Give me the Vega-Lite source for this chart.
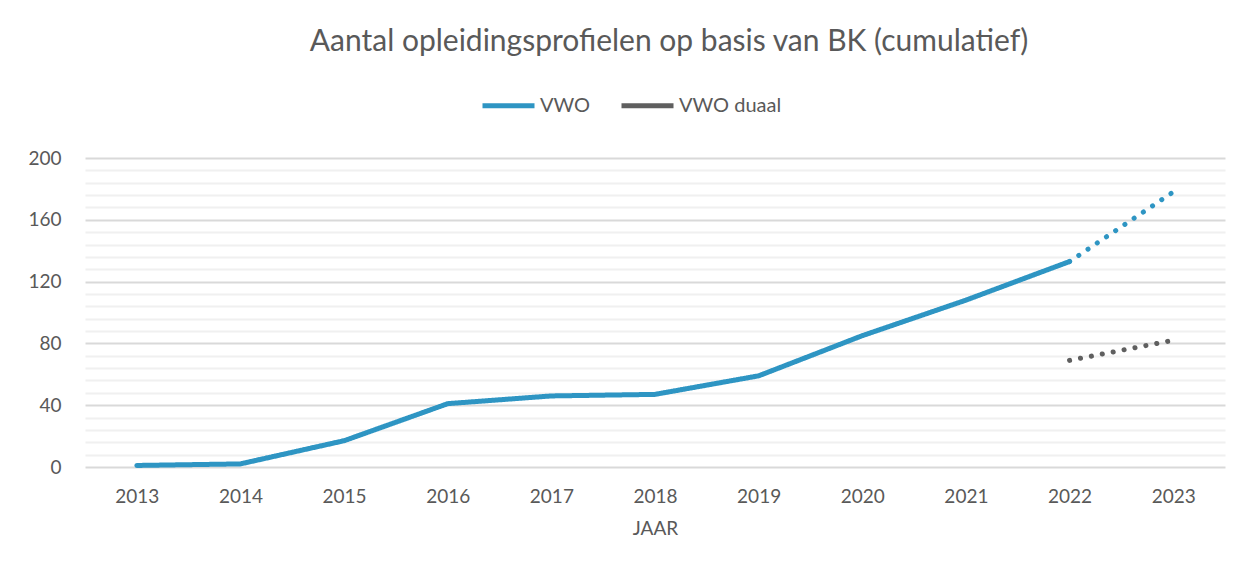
{
  "$schema": "https://vega.github.io/schema/vega-lite/v6.json",
  "width": 1140,
  "height": 309,
  "autosize": {"type": "none"},
  "padding": {"left": 85, "top": 158, "right": 25, "bottom": 110},
  "background": "white",
  "config": {
    "font": "Lato",
    "view": {"stroke": null}
  },
  "title": {
    "text": "Aantal opleidingsprofielen op basis van BK (cumulatief)",
    "fontSize": 30,
    "fontWeight": "normal",
    "color": "#595959",
    "anchor": "middle",
    "frame": "group",
    "dx": 14,
    "offset": 20
  },
  "data": {
    "values": [
      {"jaar": "2013", "aantal": 1, "reeks": "VWO", "deel": "VWO-a", "stijl": "vol"},
      {"jaar": "2014", "aantal": 2, "reeks": "VWO", "deel": "VWO-a", "stijl": "vol"},
      {"jaar": "2015", "aantal": 17, "reeks": "VWO", "deel": "VWO-a", "stijl": "vol"},
      {"jaar": "2016", "aantal": 41, "reeks": "VWO", "deel": "VWO-a", "stijl": "vol"},
      {"jaar": "2017", "aantal": 46, "reeks": "VWO", "deel": "VWO-a", "stijl": "vol"},
      {"jaar": "2018", "aantal": 47, "reeks": "VWO", "deel": "VWO-a", "stijl": "vol"},
      {"jaar": "2019", "aantal": 59, "reeks": "VWO", "deel": "VWO-a", "stijl": "vol"},
      {"jaar": "2020", "aantal": 85, "reeks": "VWO", "deel": "VWO-a", "stijl": "vol"},
      {"jaar": "2021", "aantal": 108, "reeks": "VWO", "deel": "VWO-a", "stijl": "vol"},
      {"jaar": "2022", "aantal": 133, "reeks": "VWO", "deel": "VWO-a", "stijl": "vol"},
      {"jaar": "2022", "aantal": 133, "reeks": "VWO", "deel": "VWO-b", "stijl": "stip"},
      {"jaar": "2023", "aantal": 178, "reeks": "VWO", "deel": "VWO-b", "stijl": "stip"},
      {"jaar": "2022", "aantal": 69, "reeks": "VWO duaal", "deel": "duaal", "stijl": "stip"},
      {"jaar": "2023", "aantal": 82, "reeks": "VWO duaal", "deel": "duaal", "stijl": "stip"}
    ]
  },
  "mark": {"type": "line", "strokeWidth": 5, "strokeCap": "round", "strokeJoin": "round"},
  "encoding": {
    "x": {
      "field": "jaar",
      "type": "ordinal",
      "sort": null,
      "scale": {"type": "point", "padding": 0.5},
      "axis": {
        "title": "JAAR",
        "titleFontSize": 19,
        "titleFontWeight": "normal",
        "titleColor": "#595959",
        "titlePadding": 13,
        "labelFontSize": 19,
        "labelColor": "#595959",
        "labelPadding": 20,
        "labelAngle": 0,
        "domain": false,
        "ticks": false,
        "grid": false
      }
    },
    "y": {
      "field": "aantal",
      "type": "quantitative",
      "scale": {"domain": [0, 200], "nice": false},
      "axis": {
        "title": null,
        "values": [0, 8, 16, 24, 32, 40, 48, 56, 64, 72, 80, 88, 96, 104, 112, 120, 128, 136, 144, 152, 160, 168, 176, 184, 192, 200],
        "labelExpr": "datum.value % 40 === 0 ? datum.label : ''",
        "labelFontSize": 19,
        "labelColor": "#595959",
        "labelPadding": 24,
        "domain": false,
        "ticks": false,
        "grid": true,
        "gridWidth": 2,
        "gridColor": {"condition": {"test": "datum.value % 40 === 0", "value": "#d9d9d9"}, "value": "#f0f0f0"}
      }
    },
    "color": {
      "field": "reeks",
      "type": "nominal",
      "scale": {"domain": ["VWO", "VWO duaal"], "range": ["#2e95c3", "#5f5f5f"]},
      "legend": {
        "title": null,
        "orient": "none",
        "direction": "horizontal",
        "legendX": 395,
        "legendY": -81,
        "symbolType": "stroke",
        "symbolSize": 2704,
        "symbolStrokeWidth": 5,
        "labelFontSize": 20,
        "labelColor": "#595959",
        "labelOffset": 3,
        "columnPadding": 20
      }
    },
    "strokeDash": {
      "field": "stijl",
      "type": "nominal",
      "scale": {"domain": ["vol", "stip"], "range": [[1, 0], [0.1, 11]]},
      "legend": null
    },
    "detail": {"field": "deel"}
  }
}
